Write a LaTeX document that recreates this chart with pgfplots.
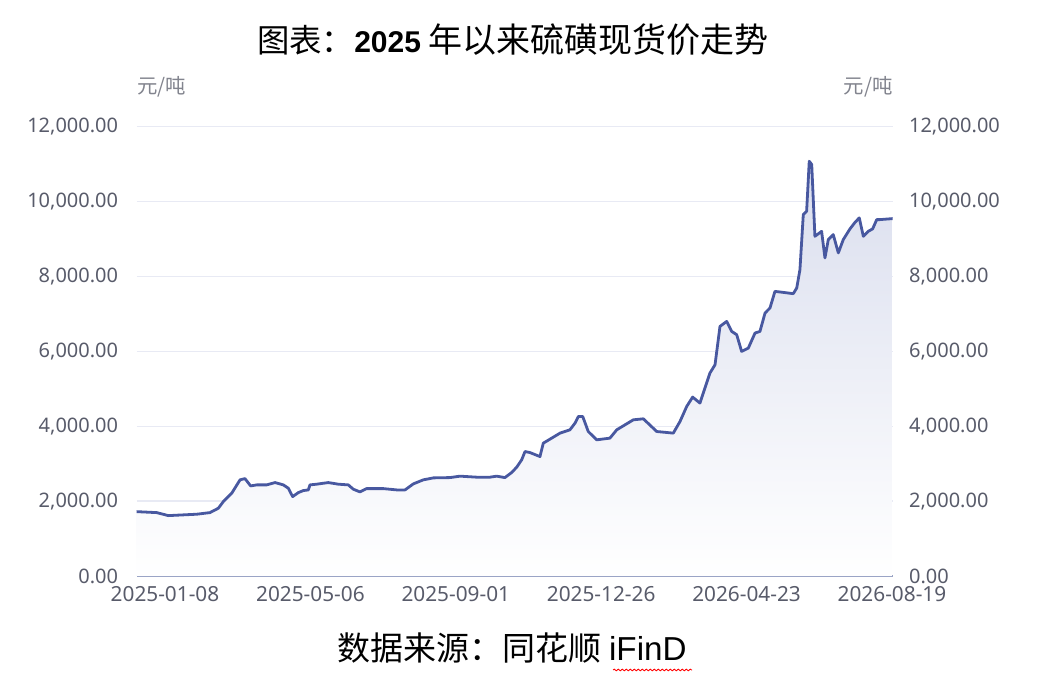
\documentclass[border=0pt]{standalone}
\usepackage{fontspec}
\usepackage{pgfplots}
\usepackage{pgfplotstable}
\pgfplotsset{compat=1.18}
\usetikzlibrary{decorations.pathmorphing}
\setmainfont{Liberation Sans}
\newfontfamily\cjk{Noto Sans CJK SC}
\newfontfamily\tickfont{Noto Sans}
\definecolor{linec}{RGB}{72,88,160}
\definecolor{areatop}{RGB}{218,222,238}
\definecolor{gridc}{RGB}{232,234,244}
\definecolor{axisc}{RGB}{155,165,198}
\definecolor{tickc}{RGB}{88,91,106}
\definecolor{unitc}{RGB}{130,132,142}

\pgfplotstableread{
x y
-0.196 1718
-0.057 1692
0.023 1612
0.218 1649
0.309 1692
0.367 1809
0.401 1986
0.459 2210
0.516 2566
0.550 2600
0.589 2405
0.631 2432
0.699 2432
0.757 2494
0.814 2432
0.848 2344
0.878 2119
0.917 2226
0.951 2280
0.986 2298
0.997 2432
1.043 2451
1.123 2494
1.192 2451
1.261 2432
1.295 2317
1.341 2245
1.387 2333
1.501 2333
1.594 2298
1.651 2298
1.708 2459
1.776 2566
1.845 2619
1.960 2627
2.029 2665
2.144 2638
2.235 2638
2.281 2665
2.338 2627
2.384 2761
2.419 2905
2.453 3100
2.476 3322
2.510 3295
2.579 3188
2.602 3547
2.648 3653
2.717 3814
2.785 3902
2.820 4081
2.843 4258
2.873 4258
2.911 3857
2.969 3635
3.060 3680
3.107 3902
3.164 4036
3.221 4169
3.290 4196
3.382 3857
3.496 3814
3.542 4124
3.588 4525
3.629 4776
3.679 4616
3.748 5417
3.783 5639
3.817 6663
3.863 6796
3.898 6529
3.932 6441
3.966 5995
4.012 6085
4.058 6486
4.092 6529
4.127 7021
4.161 7155
4.195 7598
4.252 7571
4.321 7537
4.345 7689
4.367 8178
4.390 9648
4.413 9736
4.431 11073
4.448 10984
4.470 9068
4.516 9202
4.539 8491
4.562 8980
4.596 9114
4.631 8625
4.665 8980
4.711 9266
4.746 9442
4.775 9560
4.803 9068
4.837 9202
4.867 9266
4.895 9514
4.917 9514
5.005 9541
}\pricedata

\pgfplotsset{
  basestyle/.style={
    scale only axis,
    width=378.1pt, height=224.75pt,
    at={(68.25pt,53.5pt)}, anchor=south west,
    xmin=-0.196, xmax=5.005,
    ymin=0, ymax=12000,
    ytick={0,2000,4000,6000,8000,10000,12000},
    scaled y ticks=false,
    major tick length=0pt,
    tick style={draw=none},
    /pgf/number format/.cd, fixed, fixed zerofill, precision=2, 1000 sep={,}, assume math mode=true,
    /pgfplots/.cd,
    yticklabel style={font=\tickfont\fontsize{10}{12}\selectfont, text=tickc, inner sep=0pt},
  }
}

\begin{document}
\begin{tikzpicture}
\useasboundingbox (0,0) rectangle (529.5pt,341.5pt);

\begin{axis}[
  basestyle,
  axis x line*=bottom,
  axis y line*=left,
  y axis line style={draw=none},
  x axis line style={draw=axisc, line width=1pt},
  ymajorgrids,
  grid style={color=gridc, line width=0.6pt},
  xtick={0,1,2,3,4,5},
  xticklabels={2025-01-08,2025-05-06,2025-09-01,2025-12-26,2026-04-23,2026-08-19},
  xticklabel style={font=\tickfont\fontsize{10.4}{12}\selectfont, text=tickc, inner sep=0pt, anchor=north, yshift=-5pt},
  yticklabel style={anchor=east, xshift=-9pt},
  axis on top=false,
]
\addplot[draw=none, top color=areatop, bottom color=white] table[x=x,y=y]{\pricedata} \closedcycle;
\addplot[linec, line width=1.4pt, line join=round, line cap=round] table[x=x,y=y]{\pricedata};
\end{axis}

\begin{axis}[
  basestyle,
  axis x line=none,
  axis y line*=right,
  y axis line style={draw=none},
  xtick=\empty,
  yticklabel style={anchor=west, xshift=8pt},
]
\addplot[draw=none] coordinates {(0,0)};
\end{axis}

% unit labels
\node[anchor=west, inner sep=0pt, text=unitc, font=\cjk\fontsize{10.2}{12}\selectfont] at (68.5pt,298.15pt) {元/吨};
\node[anchor=east, inner sep=0pt, text=unitc, font=\cjk\fontsize{10.2}{12}\selectfont] at (446.5pt,298.15pt) {元/吨};

% title
\node[anchor=west, inner sep=0pt] at (128.35pt,321.5pt) {{\cjk\fontsize{16.2}{18}\selectfont 图表：}{\fontsize{15}{18}\selectfont\bfseries 2025}\hspace{3.5pt}{\cjk\fontsize{17}{18}\selectfont 年以来硫磺现货价走势}};

% footer
\node[anchor=west, inner sep=0pt] at (168.35pt,17.5pt) {{\cjk\fontsize{16.5}{18}\selectfont 数据来源：同花顺}\hspace{4pt}{\fontsize{16.6}{18}\selectfont iFinD}};
\draw[red, line width=0.4pt, decorate, decoration={snake, amplitude=0.45pt, segment length=2pt}] (306.5pt,6.5pt) -- (346pt,6.5pt);
\end{tikzpicture}
\end{document}
